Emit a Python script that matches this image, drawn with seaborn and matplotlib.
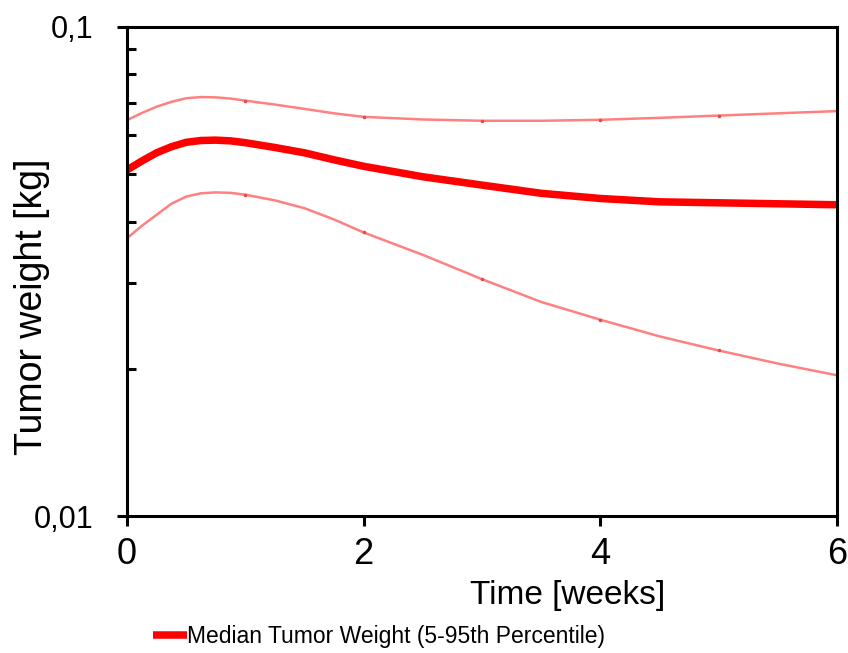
import matplotlib
matplotlib.use("Agg")
import matplotlib.pyplot as plt
import matplotlib.ticker as mticker
import seaborn as sns
import pandas as pd

# ---- data ----
time_weeks = [0, 0.125, 0.25, 0.375, 0.5, 0.625, 0.75, 0.875, 1, 1.25, 1.5,
              1.75, 2, 2.5, 3, 3.5, 4, 4.5, 5, 5.5, 6]
median_kg = [0.0510, 0.0532, 0.0553, 0.0569, 0.0581, 0.0586, 0.0587, 0.0585,
             0.0580, 0.0567, 0.0553, 0.0535, 0.0519, 0.0494, 0.0475, 0.0457,
             0.0446, 0.0439, 0.0437, 0.0435, 0.0433]
p95_kg = [0.0645, 0.0667, 0.0687, 0.0703, 0.0715, 0.0719, 0.0718, 0.0714,
          0.0707, 0.0694, 0.0680, 0.0666, 0.0655, 0.0647, 0.0643, 0.0643,
          0.0646, 0.0652, 0.0659, 0.0666, 0.0673]
p5_kg = [0.0370, 0.0392, 0.0413, 0.0435, 0.0450, 0.0457, 0.0459, 0.0458,
         0.0454, 0.0442, 0.0426, 0.0404, 0.0380, 0.0342, 0.0305, 0.0274,
         0.0252, 0.0233, 0.0218, 0.0205, 0.0194]
y_ticks = [0.01, 0.1]
y_tick_labels = ["0,01", "0,1"]
x_ticks = [0, 2, 4, 6]
legend_label = "Median Tumor Weight (5-95th Percentile)"

df = pd.DataFrame({"time": time_weeks, "median": median_kg,
                   "p95": p95_kg, "p5": p5_kg})

sns.set_theme(style="white")
plt.rcParams["font.family"] = ["Liberation Sans", "DejaVu Sans"]
plt.rcParams["text.color"] = "black"
plt.rcParams["axes.labelcolor"] = "black"
plt.rcParams["xtick.color"] = "black"
plt.rcParams["ytick.color"] = "black"

fig = plt.figure(figsize=(8.48, 6.53), dpi=100)
ax = fig.add_axes([127 / 848, 1 - 516 / 653, 710 / 848, 489 / 653])

int_idx = [i for i, t in enumerate(time_weeks) if float(t).is_integer()]
bound_kw = dict(color="#FF8080", linewidth=1.8, marker="o", markersize=1.8,
                markevery=int_idx, markerfacecolor="#E84848",
                markeredgecolor="#E84848")
sns.lineplot(data=df, x="time", y="p95", ax=ax, legend=False, **bound_kw)
sns.lineplot(data=df, x="time", y="p5", ax=ax, legend=False, **bound_kw)
sns.lineplot(data=df, x="time", y="median", ax=ax, color="#FF0000",
             linewidth=5.4, label=legend_label, solid_capstyle="butt")

ax.set_yscale("log")
ax.set_ylim(0.01, 0.1)
ax.set_xlim(0, 6)

ax.yaxis.set_major_locator(mticker.FixedLocator(y_ticks))
ax.yaxis.set_major_formatter(mticker.FixedFormatter(y_tick_labels))
ax.yaxis.set_minor_locator(mticker.LogLocator(base=10, subs=range(2, 10)))
ax.yaxis.set_minor_formatter(mticker.NullFormatter())
ax.set_xticks(x_ticks)
ax.set_xticklabels([str(v) for v in x_ticks])

for s in ax.spines.values():
    s.set_color("black")
    s.set_linewidth(2.2)

ax.tick_params(axis="y", which="major", direction="out", length=7.2,
               width=2.2, color="black", labelcolor="black", labelsize=22,
               pad=17, left=True)
ax.tick_params(axis="y", which="minor", direction="in", length=6.5,
               width=2.2, color="black", left=True)
ax.tick_params(axis="x", which="major", direction="out", length=7.2,
               width=2.2, color="black", labelcolor="black", labelsize=26,
               pad=8, bottom=True)

ax.set_xlabel("Time [weeks]", fontsize=24, color="black")
ax.set_ylabel("Tumor weight [kg]", fontsize=27, color="black")
ax.xaxis.set_label_coords(0.62, -0.13)
ax.yaxis.set_label_coords(-0.108, 0.427)

ax.legend_.remove()
handles, labels = ax.get_legend_handles_labels()
leg = fig.legend(handles, labels, loc="center left",
                 bbox_to_anchor=(153 / 848, 0.026), frameon=False,
                 fontsize=16.5, handlelength=1.5, handletextpad=0.0,
                 borderpad=0, borderaxespad=0)
for t in leg.get_texts():
    t.set_color("black")

fig.savefig("out.png", dpi=100)
